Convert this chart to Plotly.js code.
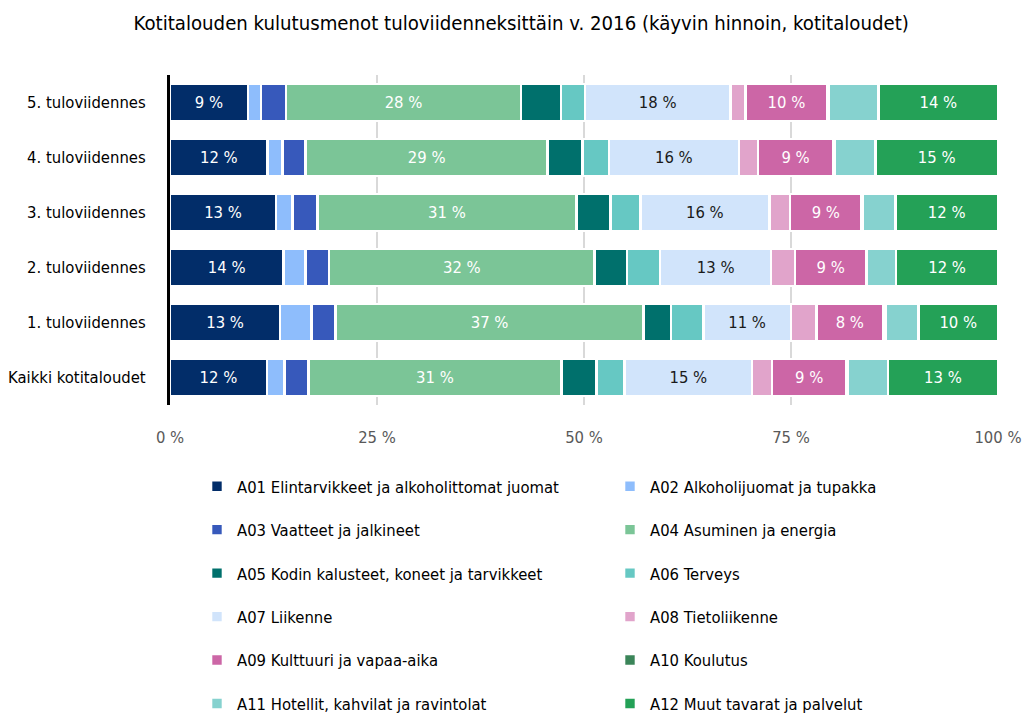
<!DOCTYPE html>
<html>
<head>
<meta charset="utf-8">
<script src="https://cdn.plot.ly/plotly-3.0.1.min.js"></script>
<style>html,body{margin:0;padding:0;background:#fff;}#chart{width:1026px;height:718px;}</style>
</head>
<body>
<div id="chart"></div>
<script>
const categories = ['Kaikki kotitaloudet', '1. tuloviidennes', '2. tuloviidennes', '3. tuloviidennes', '4. tuloviidennes', '5. tuloviidennes'];

const seriesNames = [
  'A01 Elintarvikkeet ja alkoholittomat juomat',
  'A02 Alkoholijuomat ja tupakka',
  'A03 Vaatteet ja jalkineet',
  'A04 Asuminen ja energia',
  'A05 Kodin kalusteet, koneet ja tarvikkeet',
  'A06 Terveys',
  'A07 Liikenne',
  'A08 Tietoliikenne',
  'A09 Kulttuuri ja vapaa-aika',
  'A10 Koulutus',
  'A11 Hotellit, kahvilat ja ravintolat',
  'A12 Muut tavarat ja palvelut'
];

// values in % per category (Kaikki, 1., 2., 3., 4., 5.)
const A01 = [11.7, 13.3, 13.7, 12.8, 11.8, 9.4];
const A02 = [2.1, 3.8, 2.7, 2.0, 1.8, 1.6];
const A03 = [2.9, 2.9, 2.8, 3.0, 2.8, 3.0];
const A04 = [30.6, 37.2, 32.1, 31.3, 29.2, 28.4];
const A05 = [4.2, 3.3, 3.9, 4.1, 4.2, 4.8];
const A06 = [3.4, 3.9, 4.0, 3.6, 3.2, 2.9];
const A07 = [15.4, 10.6, 13.4, 15.6, 15.7, 17.6];
const A08 = [2.4, 3.1, 2.9, 2.5, 2.3, 1.8];
const A09 = [9.0, 8.0, 8.6, 8.6, 9.1, 9.9];
const A10 = [0.2, 0.3, 0.1, 0.1, 0.2, 0.2];
const A11 = [4.8, 4.0, 3.5, 4.0, 4.9, 6.0];
const A12 = [13.3, 9.6, 12.3, 12.4, 14.8, 14.4];

const seriesValues = [A01, A02, A03, A04, A05, A06, A07, A08, A09, A10, A11, A12];
const xTickVals = [0, 25, 50, 75, 100];
const xTickText = ['0 %', '25 %', '50 %', '75 %', '100 %'];

const colors = ['#022d69', '#8ebdfc', '#3759bb', '#7bc597', '#00706c', '#66c8c3',
                '#d1e4fb', '#e1a4cb', '#cc66a6', '#3b8559', '#86d2cf', '#24a157'];
const labelled = [true, false, false, true, false, false, true, false, true, false, false, true];
const labelColors = ['#ffffff', '#000', '#000', '#ffffff', '#000', '#000', '#1a1a1a', '#000', '#ffffff', '#000', '#000', '#ffffff'];

const FONT = '"Liberation Sans Narrow", "DejaVu Sans Condensed", "Roboto Condensed", Roboto, sans-serif';

const traces = seriesNames.map((name, i) => ({
  type: 'bar',
  orientation: 'h',
  name: name,
  y: categories,
  x: seriesValues[i],
  marker: {color: colors[i], line: {color: '#ffffff', width: 2.6}},
  text: seriesValues[i].map(v => labelled[i] ? Math.round(v) + ' %' : ''),
  textposition: labelled[i] ? 'inside' : 'none',
  insidetextanchor: 'middle',
  textfont: {family: FONT, size: 16.5, color: labelColors[i]},
  hoverinfo: 'name+x',
  legend: i % 2 === 0 ? 'legend' : 'legend2',
  legendgroup: 'g' + i
}));

const legendCommon = {
  orientation: 'v',
  xanchor: 'left', yanchor: 'top',
  bgcolor: 'rgba(0,0,0,0)',
  borderwidth: 0,
  tracegroupgap: 19,
  font: {family: FONT, size: 16.5, color: '#000'},
  traceorder: 'grouped'
};

const layout = {
  width: 1026,
  height: 718,
  paper_bgcolor: '#ffffff',
  plot_bgcolor: '#ffffff',
  margin: {l: 170, r: 28, t: 75, b: 313, autoexpand: false},
  barmode: 'stack',
  bargap: 0.33,
  showlegend: true,
  font: {family: FONT, color: '#000'},
  title: {
    text: 'Kotitalouden kulutusmenot tuloviidenneksittäin v. 2016 (käyvin hinnoin, kotitaloudet)',
    font: {family: FONT, size: 20.2, color: '#000'},
    x: 0.508, xref: 'container', xanchor: 'center',
    y: 0.968, yref: 'container', yanchor: 'middle'
  },
  xaxis: {
    range: [0, 100],
    tickvals: xTickVals,
    ticktext: xTickText,
    showgrid: true,
    gridcolor: '#d9d9d9',
    gridwidth: 2,
    zeroline: false,
    showline: false,
    ticks: 'outside',
    ticklen: 17,
    tickcolor: 'rgba(0,0,0,0)',
    tickfont: {family: FONT, size: 16.5, color: '#595959'},
    fixedrange: true
  },
  yaxis: {
    type: 'category',
    showline: true,
    linecolor: '#000',
    linewidth: 3,
    showgrid: false,
    zeroline: false,
    ticks: 'outside',
    ticklen: 18,
    tickcolor: 'rgba(0,0,0,0)',
    tickfont: {family: FONT, size: 16.5, color: '#000'},
    fixedrange: true
  },
  legend: Object.assign({}, legendCommon, {x: (197 - 170) / 828, y: (405 - 469) / 330}),
  legend2: Object.assign({}, legendCommon, {x: (610 - 170) / 828, y: (405 - 469) / 330})
};

Plotly.newPlot('chart', traces, layout, {displayModeBar: false, responsive: false});
</script>
</body>
</html>
